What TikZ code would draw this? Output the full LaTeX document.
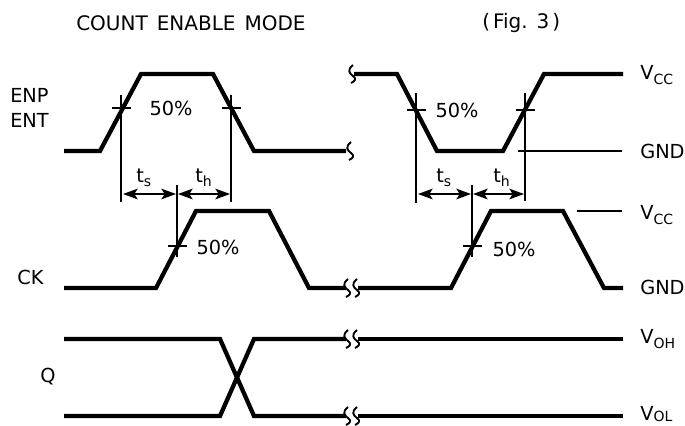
\documentclass[tikz,border=0pt]{standalone}
\usepackage{fontspec}
\setmainfont{DejaVu Sans}
\usetikzlibrary{arrows.meta}
\tikzset{
  wave/.style={line width=3.2pt, line join=miter},
  thin line/.style={line width=1.1pt},
  span/.style={line width=1.2pt, {Stealth[length=11pt,width=8pt,inset=2.5pt]}-{Stealth[length=11pt,width=8pt,inset=2.5pt]}},
  squig/.style={line width=1.4pt},
  txt/.style={inner sep=0pt, font=\fontsize{14.5}{16}\selectfont},
  lbl/.style={txt, anchor=west},
  head/.style={lbl, font=\fontsize{15}{18}\selectfont}
}
\newcommand{\squiggle}[2]{\draw[squig] (#1-1,#2-9) .. controls (#1-7,#2-4) and (#1-5,#2-1) .. (#1-1,#2+2) .. controls (#1+3,#2+5) and (#1+1,#2+7) .. (#1-3,#2+9);}
\newcommand{\sub}[1]{\raisebox{-0.4ex}{\fontsize{10.5}{10}\selectfont #1}}
\begin{document}
\begin{tikzpicture}[x=0.75pt,y=0.75pt,yscale=-1,xscale=1]
    \useasboundingbox (0,0) rectangle (685,425);
    \clip (0,0) rectangle (685,425);

    % ENP ENT
    \draw [wave] (64,151) -- (100,151) -- (141,74) -- (213,74) -- (254,151) -- (346,151);
    \draw [wave] (354,74) -- (397,74) -- (437,151) -- (503,151) -- (544,74) -- (623,74);
    \squiggle{354}{74}
    \squiggle{352}{151}

    % CK
    \draw [wave] (64,288) -- (156,288) -- (196,211) -- (269,211) -- (309,288) -- (346,288);
    \draw [wave] (358,288) -- (451,288) -- (491,211) -- (563,211) -- (604,288) -- (623,288);
    \squiggle{349}{288}
    \squiggle{358}{288}

    % Q
    \draw [wave] (64,339) -- (220,339) -- (254,416) -- (346,416);
    \draw [wave] (64,416) -- (220,416) -- (254,339) -- (346,339);
    \draw [wave] (358,339) -- (623,339);
    \draw [wave] (358,416) -- (623,416);
    \squiggle{349}{339}
    \squiggle{358}{339}
    \squiggle{349}{416}
    \squiggle{358}{416}

    % reference lines and ticks
    \foreach \xa/\ya/\yb/\yt in {121/95/202/108, 231/95/202/108, 416/93/203/110, 525/93/201/110, 177/185/257/246, 472/185/257/246} {
      \draw [thin line] (\xa,\ya) -- (\xa,\yb);
      \draw [thin line] (\xa-9.5,\yt) -- (\xa+9.5,\yt);
    }
    \draw [thin line] (518,151) -- (622,151);
    \draw [thin line] (577,211) -- (622,211);

    % setup and hold spans
    \draw [span] (123,194) -- (176,194);
    \draw [span] (178,194) -- (230,194);
    \draw [span] (418,194) -- (471,194);
    \draw [span] (473,194) -- (524,194);

    % Text Node
    \node (title) [head] at (76,23) {COUNT\hspace{0.45em}ENABLE\hspace{0.45em}MODE};
    \node (figno) [head] at (482,23) {(\hspace{0.15em}Fig.\hspace{0.45em}3\hspace{0.15em})};
    \node (enp) [lbl] at (10,95) {ENP};
    \node (ent) [lbl] at (10,120) {ENT};
    \node (ck) [lbl] at (17,277) {CK};
    \node (q) [lbl] at (40,377) {Q};
    \node (pcta) [txt] at (171,108) {50\%};
    \node (pctb) [txt] at (457,110) {50\%};
    \node (pctc) [txt] at (218,247) {50\%};
    \node (pctd) [txt] at (514,249) {50\%};
    \node (tsa) [lbl] at (136,178) {t\sub{s}};
    \node (tha) [lbl] at (195,178) {t\sub{h}};
    \node (tsb) [lbl] at (436,178) {t\sub{s}};
    \node (thb) [lbl] at (493,178) {t\sub{h}};
    \node (vcca) [lbl] at (640,75) {V\sub{CC}};
    \node (gnda) [lbl] at (640,151) {GND};
    \node (vccb) [lbl] at (640,215) {V\sub{CC}};
    \node (gndb) [lbl] at (640,287) {GND};
    \node (voh) [lbl] at (640,339) {V\sub{OH}};
    \node (vol) [lbl] at (640,414) {V\raisebox{-0.1ex}{\fontsize{10.5}{10}\selectfont OL}};
\end{tikzpicture}
\end{document}
